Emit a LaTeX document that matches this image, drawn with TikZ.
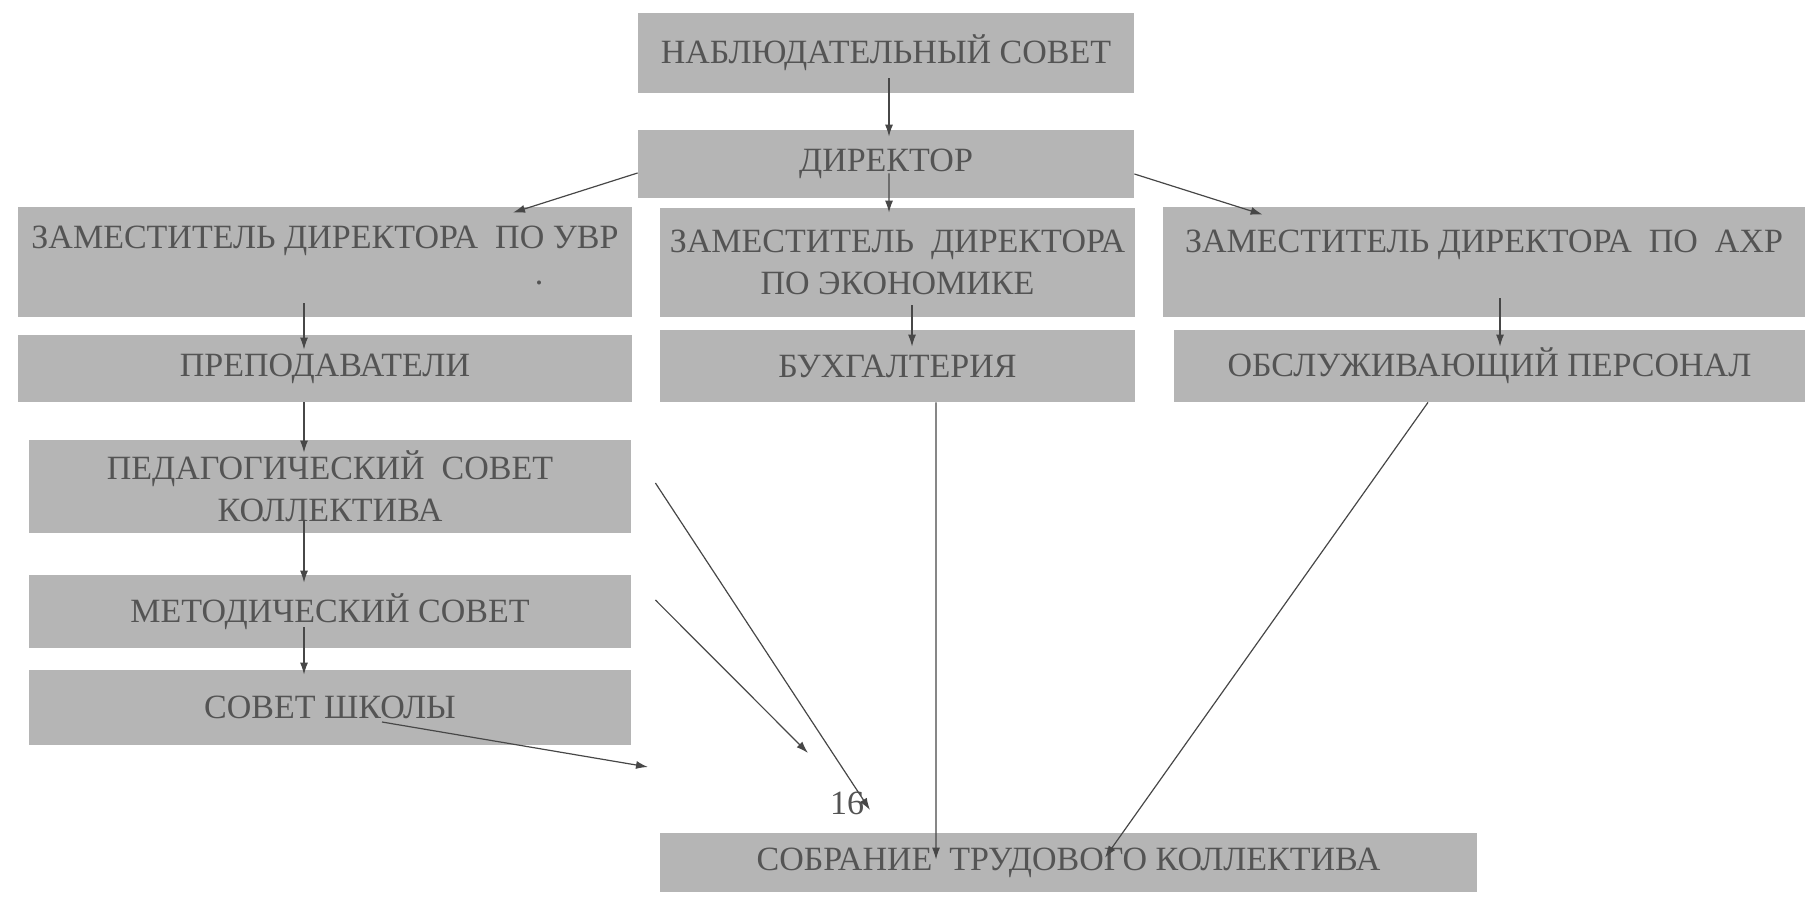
\documentclass[tikz,border=0pt]{standalone}
\usepackage{fontspec}
\setmainfont{Liberation Serif}
\usepackage{tikz}
\usetikzlibrary{arrows}
\usetikzlibrary{arrows.meta}
\usetikzlibrary{positioning}
\usetikzlibrary{calc}
\definecolor{boxcol}{rgb}{0.71,0.71,0.71}
\definecolor{textcol}{rgb}{0.33,0.33,0.33}
\definecolor{linecol}{rgb}{0.28,0.28,0.28}
\tikzset{>={Latex[length=6bp,width=4bp]}, unit/.style={fill=boxcol, text=textcol, inner sep=0pt, align=center, font=\fontsize{17bp}{21bp}\selectfont}, link/.style={->, draw=linecol, line width=0.6pt}}

\begin{document}
\begin{tikzpicture}[line join=bevel,]
%%
\useasboundingbox (0bp,0bp) rectangle (902.5bp,450.5bp);
  \node (nab) at (443.0bp,424.0bp) [unit,minimum width=248bp,minimum height=40bp] {НАБЛЮДАТЕЛЬНЫЙ СОВЕТ};
  \node (dir) at (443.0bp,368.5bp) [unit,minimum width=248bp,minimum height=34bp] {ДИРЕКТОР};
  \node (uvr) at (162.5bp,319.5bp) [unit,minimum width=307bp,minimum height=55bp] {ЗАМЕСТИТЕЛЬ ДИРЕКТОРА~ ПО УВР\\[-3bp] \hspace*{214bp}.\\[-14bp] ~};
  \node (econ) at (448.75bp,319.25bp) [unit,minimum width=237.5bp,minimum height=54.5bp] {ЗАМЕСТИТЕЛЬ~ ДИРЕКТОРА\\ ПО ЭКОНОМИКЕ};
  \node (ahr) at (742.0bp,319.5bp) [unit,minimum width=321bp,minimum height=55bp] {ЗАМЕСТИТЕЛЬ ДИРЕКТОРА~ ПО~ АХР\\ ~};
  \node (prep) at (162.5bp,266.25bp) [unit,minimum width=307bp,minimum height=33.5bp] {ПРЕПОДАВАТЕЛИ};
  \node (buh) at (448.75bp,267.5bp) [unit,minimum width=237.5bp,minimum height=36bp] {БУХГАЛТЕРИЯ};
  \node (obs) at (744.75bp,267.5bp) [unit,minimum width=315.5bp,minimum height=36bp] {ОБСЛУЖИВАЮЩИЙ ПЕРСОНАЛ};
  \node (ped) at (165.0bp,207.25bp) [unit,minimum width=301bp,minimum height=46.5bp] {ПЕДАГОГИЧЕСКИЙ~ СОВЕТ\\ КОЛЛЕКТИВА};
  \node (met) at (165.0bp,144.75bp) [unit,minimum width=301bp,minimum height=36.5bp] {МЕТОДИЧЕСКИЙ СОВЕТ};
  \node (sov) at (165.0bp,96.75bp) [unit,minimum width=301bp,minimum height=37.5bp] {СОВЕТ ШКОЛЫ};
  \node (sobr) at (534.25bp,19.25bp) [unit,minimum width=408.5bp,minimum height=29.5bp] {СОБРАНИЕ~ ТРУДОВОГО КОЛЛЕКТИВА};
  \node (pnum) at (423.5bp,49.0bp) [text=textcol,inner sep=0pt,font=\fontsize{17bp}{21bp}\selectfont] {16};
  \coordinate (e1) at (435.0bp,45.5bp);
  \coordinate (e2) at (404.0bp,74.0bp);
  \coordinate (e3) at (324.0bp,67.0bp);
%
  \draw [link] ([xshift=1.5bp,yshift=7.5bp]nab.south) -- ([xshift=1.5bp,yshift=-3.5bp]dir.north);
  \draw [link] ([xshift=1.5bp,yshift=12.5bp]dir.south) -- ([xshift=-4.25bp,yshift=-2.5bp]econ.north);
  \draw [link] ([yshift=-4.5bp]dir.west) -- ([xshift=94bp,yshift=-3bp]uvr.north);
  \draw [link] ([yshift=-5bp]dir.east) -- ([xshift=50bp,yshift=-4bp]ahr.north west);
  \draw [link] ([xshift=-10.5bp,yshift=7bp]uvr.south) -- ([xshift=-10.5bp,yshift=-7.5bp]prep.north);
  \draw [link] ([xshift=-10.5bp]prep.south) -- ([xshift=-13bp,yshift=-6.5bp]ped.north);
  \draw [link] ([xshift=-13bp,yshift=6.5bp]ped.south) -- ([xshift=-13bp,yshift=-4bp]met.north);
  \draw [link] ([xshift=-13bp,yshift=10.5bp]met.south) -- ([xshift=-13bp,yshift=-2.5bp]sov.north);
  \draw [link] ([xshift=7.25bp,yshift=6bp]econ.south) -- ([xshift=7.25bp,yshift=-8.5bp]buh.north);
  \draw [link] ([xshift=8bp,yshift=9.5bp]ahr.south) -- ([xshift=5.25bp,yshift=-8.5bp]obs.north);
  \draw [link] ([xshift=19.25bp]buh.south) -- ([xshift=-66.25bp,yshift=-13.5bp]sobr.north);
  \draw [link] ([xshift=-30.75bp]obs.south) -- ([xshift=18.25bp,yshift=-12.5bp]sobr.north);
  \draw [link] ([xshift=12bp,yshift=1.75bp]ped.east) -- (e1);
  \draw [link] ([xshift=12bp,yshift=5.75bp]met.east) -- (e2);
  \draw [link] ([xshift=26bp,yshift=-7.25bp]sov.center) -- (e3);
%
\end{tikzpicture}
\end{document}
